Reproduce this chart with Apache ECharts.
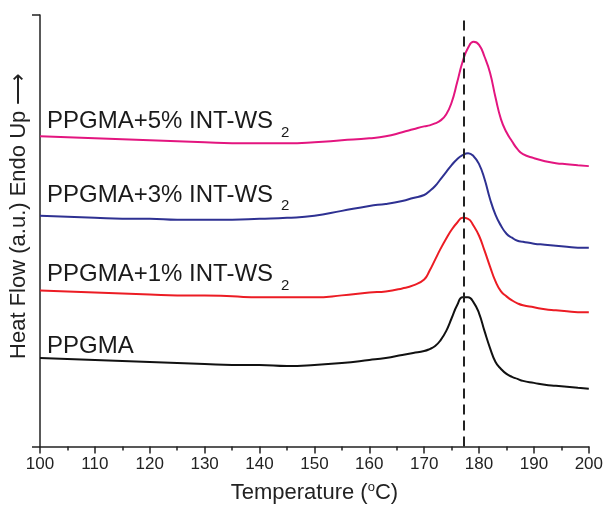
<!DOCTYPE html>
<html>
<head>
<meta charset="utf-8">
<script src="https://cdn.jsdelivr.net/npm/echarts@6/dist/echarts.min.js"></script>
<style>
  html, body { margin: 0; padding: 0; background: #fff; }
  #chart { width: 606px; height: 509px; }
</style>
</head>
<body>
<div id="chart"></div>
<script>
// temperature (°C) sample points, shared by all curves
var temps = [100, 105, 110, 115, 120, 125, 130, 135, 140, 145, 150, 155, 160, 163, 166, 168, 170, 171, 172, 173,
  174, 175, 176, 177, 178, 179, 180, 181, 182, 183, 184, 185, 186, 187, 188, 190, 192, 194, 196, 198, 200];

// heat flow (a.u.), curves stacked with their offsets as in the figure
var ppgma = [89, 88, 87, 86, 85, 84, 83, 82, 82, 81, 82, 84, 87, 89, 92, 94, 96, 98, 101, 107,
  116, 129, 142, 150, 150, 145, 134, 116, 99, 85, 78, 73, 70, 68, 66, 64, 62, 61, 60, 59, 58];
var ws1 = [157, 156, 155, 154, 153, 152, 152, 151, 150, 150, 150, 152, 155, 156, 159, 162, 168, 177, 188, 199,
  209, 218, 225, 230, 229, 222, 212, 197, 181, 166, 156, 151, 147, 144, 142, 140, 138, 137, 136, 135, 135];
var ws3 = [232, 231, 230, 229, 229, 228, 228, 228, 229, 230, 232, 237, 242, 244, 247, 250, 253, 257, 262, 269,
  276, 283, 289, 293, 295, 292, 284, 269, 249, 233, 222, 214, 210, 207, 206, 204, 203, 202, 201, 200, 200];
var ws5 = [312, 311, 310, 309, 308, 307, 306, 305, 305, 305, 306, 308, 310, 312, 316, 319, 322, 323, 325, 328,
  334, 346, 366, 387, 401, 407, 404, 392, 376, 351, 329, 316, 307, 299, 294, 290, 287, 285, 284, 283, 282];

var seriesNames = ['PPGMA', 'PPGMA+1% INT-WS', 'PPGMA+3% INT-WS', 'PPGMA+5% INT-WS'];
var seriesSub = ['', '2', '2', '2'];
var labelY = [101, 173, 253, 327];
var peakT = 177.2;

var colors = ['#111111', '#ec1c24', '#2e3192', '#e3157f'];
var font = 'Liberation Sans, Arial, sans-serif';

function pairs(ys) {
  return temps.map(function (t, i) { return [t, ys[i]]; });
}

var allData = [ppgma, ws1, ws3, ws5];

var chart = echarts.init(document.getElementById('chart'));

var series = allData.map(function (ys, i) {
  var s = {
    name: seriesNames[i],
    type: 'line',
    data: pairs(ys),
    smooth: 0.5,
    showSymbol: false,
    lineStyle: { color: colors[i], width: 2 },
    markPoint: {
      symbol: 'circle',
      symbolSize: 0,
      silent: true,
      data: [{
        coord: [100, labelY[i]],
        label: {
          show: true,
          position: 'right',
          distance: 7,
          formatter: '{a|' + seriesNames[i] + '}' + (seriesSub[i] ? '{s|' + seriesSub[i] + '}' : ''),
          rich: {
            a: { fontSize: 24, color: '#1a1a1a', fontFamily: font },
            s: { fontSize: 15, color: '#1a1a1a', fontFamily: font, padding: [22, 0, 0, 8] }
          }
        }
      }]
    }
  };
  if (i === 0) {
    s.markLine = {
      symbol: 'none',
      silent: true,
      label: { show: false },
      lineStyle: { color: '#222', width: 2, type: [10, 6] },
      data: [{ xAxis: peakT }]
    };
  }
  return s;
});

var option = {
  backgroundColor: '#ffffff',
  animation: false,
  grid: { left: 40, right: 17, top: 15, bottom: 60 },
  xAxis: {
    type: 'value',
    min: 100,
    max: 200,
    interval: 10,
    axisLine: { lineStyle: { color: '#222', width: 1.5 } },
    axisTick: { length: 7, lineStyle: { color: '#222', width: 1.5 } },
    minorTick: { show: true, splitNumber: 2, length: 4, lineStyle: { color: '#222', width: 1.5 } },
    splitLine: { show: false },
    axisLabel: { fontSize: 17, color: '#222', margin: 9, fontFamily: font },
    name: '{a|Temperature (}{o|o}{a|C)}',
    nameLocation: 'middle',
    nameGap: 34,
    nameTextStyle: {
      rich: {
        a: { fontSize: 22, color: '#222', fontFamily: font },
        o: { fontSize: 13, color: '#222', fontFamily: font, padding: [0, 0, 12, 0] }
      }
    }
  },
  yAxis: {
    type: 'value',
    min: 0,
    max: 434,
    interval: 434,
    axisLine: { show: true, lineStyle: { color: '#222', width: 1.5 } },
    axisTick: { show: true, length: 8, lineStyle: { color: '#222', width: 1.5 } },
    axisLabel: { show: false },
    splitLine: { show: false },
    name: 'Heat Flow (a.u.) Endo Up \u27F6',
    nameLocation: 'middle',
    nameGap: 10,
    nameTextStyle: { fontSize: 22, color: '#222', fontFamily: font, padding: [0, 0, 0, 30] }
  },
  series: series
};

chart.setOption(option);
</script>
</body>
</html>
